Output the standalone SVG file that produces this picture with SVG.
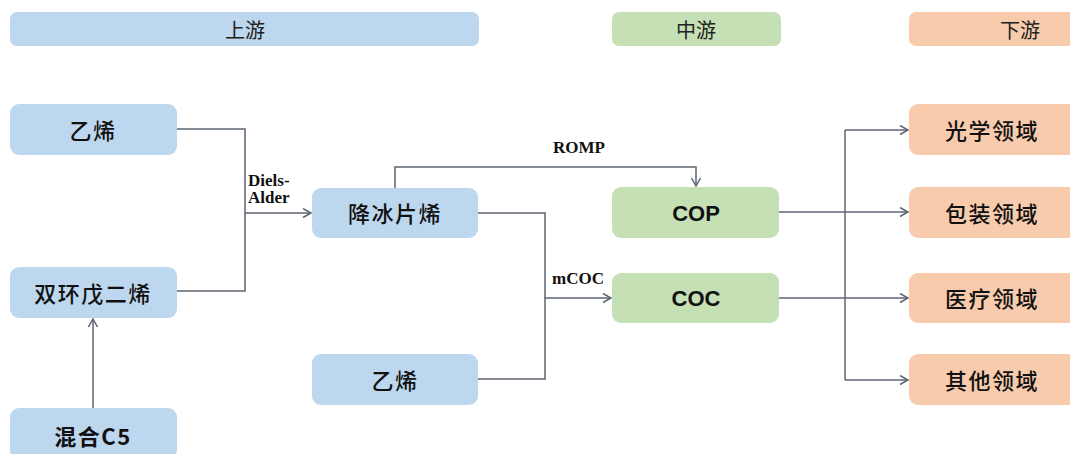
<svg xmlns="http://www.w3.org/2000/svg" width="1070" height="454" viewBox="0 0 1070 454">
<style>
.up{fill:#bdd7ee}
.mid{fill:#c5e0b4}
.down{fill:#f8cbad}
.hdr{font-family:"Noto Sans CJK SC","Noto Sans",sans-serif;font-size:20px;fill:#222;text-anchor:middle;dominant-baseline:central}
.lbl{font-family:"Noto Sans CJK SC","Noto Sans",sans-serif;font-size:22px;font-weight:500;fill:#111;text-anchor:middle;dominant-baseline:central;letter-spacing:1.5px}
.en{font-family:"Liberation Sans",Arial,sans-serif;font-size:22px;font-weight:bold;fill:#111;text-anchor:middle;dominant-baseline:central}
.rx{font-family:"Liberation Serif","Times New Roman",serif;font-size:17px;font-weight:bold;fill:#111}
.ln{fill:none;stroke:#5e6573;stroke-width:1.5}
</style>
<defs>
<marker id="ah" markerUnits="userSpaceOnUse" markerWidth="12" markerHeight="12" refX="9" refY="5" orient="auto">
<path d="M1,0.5 L9,5 L1,9.5" fill="none" stroke="#5e6573" stroke-width="1.5"/>
</marker>
</defs>
<g id="headers">
<g id="h-up"><rect class="up" x="10" y="12" width="469" height="34" rx="7"/><text class="hdr" x="245" y="29">上游</text></g>
<g id="h-mid"><rect class="mid" x="612" y="12" width="169" height="34" rx="7"/><text class="hdr" x="696" y="29">中游</text></g>
<g id="h-down"><rect class="down" x="909" y="12" width="230" height="34" rx="7"/><text class="hdr" x="1020" y="29">下游</text></g>
</g>
<g id="connectors">
<path class="ln" d="M177,129 H245 V291 H177"/>
<path class="ln" d="M245,213 H311" marker-end="url(#ah)"/>
<path class="ln" d="M93,408 V319" marker-end="url(#ah)"/>
<path class="ln" d="M395,188 V167 H696 V186" marker-end="url(#ah)"/>
<path class="ln" d="M478,213 H545 V379 H478"/>
<path class="ln" d="M545,298 H611" marker-end="url(#ah)"/>
<path class="ln" d="M779,212 H908" marker-end="url(#ah)"/>
<path class="ln" d="M779,298 H908" marker-end="url(#ah)"/>
<path class="ln" d="M845,130 V380"/>
<path class="ln" d="M845,130 H908" marker-end="url(#ah)"/>
<path class="ln" d="M845,380 H908" marker-end="url(#ah)"/>
<text class="rx" x="248" y="186">Diels-</text>
<text class="rx" x="248" y="203">Alder</text>
<text class="rx" x="579" y="153" text-anchor="middle">ROMP</text>
<text class="rx" x="578" y="284" text-anchor="middle">mCOC</text>
</g>
<g id="n-ethylene1"><rect class="up" x="10" y="104" width="167" height="51" rx="9"/><text class="lbl" x="93" y="129">乙烯</text></g>
<g id="n-dcpd"><rect class="up" x="10" y="267" width="167" height="51" rx="9"/><text class="lbl" x="93" y="292">双环戊二烯</text></g>
<g id="n-c5"><rect class="up" x="10" y="408" width="167" height="51" rx="9"/><text class="lbl" x="93" y="435" style="font-weight:bold">混合C5</text></g>
<g id="n-norbornene"><rect class="up" x="312" y="188" width="166" height="50" rx="9"/><text class="lbl" x="395" y="212">降冰片烯</text></g>
<g id="n-ethylene2"><rect class="up" x="312" y="354" width="166" height="51" rx="9"/><text class="lbl" x="395" y="379">乙烯</text></g>
<g id="n-cop"><rect class="mid" x="612" y="187" width="167" height="51" rx="9"/><text class="en" x="696" y="213">COP</text></g>
<g id="n-coc"><rect class="mid" x="612" y="273" width="167" height="50" rx="9"/><text class="en" x="696" y="298">COC</text></g>
<g id="n-optical"><rect class="down" x="909" y="104" width="170" height="51" rx="9"/><text class="lbl" x="992" y="129">光学领域</text></g>
<g id="n-packaging"><rect class="down" x="909" y="187" width="170" height="51" rx="9"/><text class="lbl" x="992" y="212">包装领域</text></g>
<g id="n-medical"><rect class="down" x="909" y="273" width="170" height="50" rx="9"/><text class="lbl" x="992" y="297">医疗领域</text></g>
<g id="n-other"><rect class="down" x="909" y="354" width="170" height="51" rx="9"/><text class="lbl" x="992" y="379">其他领域</text></g>
</svg>
